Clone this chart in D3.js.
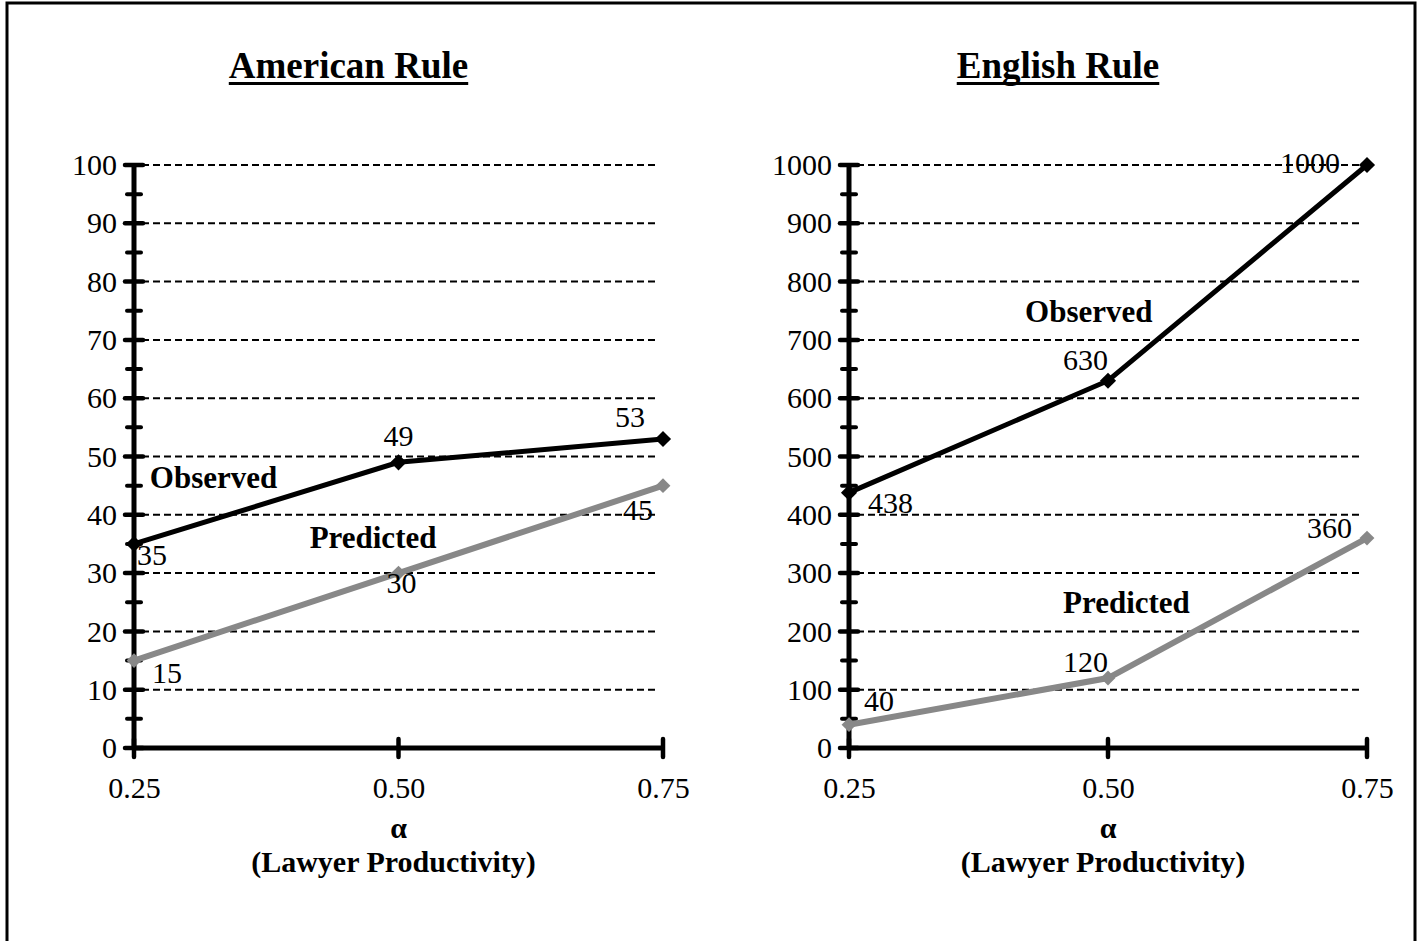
<!DOCTYPE html>
<html>
<head>
<meta charset="utf-8">
<script src="https://cdn.jsdelivr.net/npm/d3@7"></script>
<style>
    body { margin: 0; background: #fff; }
    svg { display: block; }
    text { font-family: "Liberation Serif", "Times New Roman", serif; fill: #000; }
</style>
</head>
<body>
<div id="chart"></div>
<script>
'use strict';
// values
var alphas = [0.25, 0.50, 0.75];
var alphaLabels = ["0.25", "0.50", "0.75"];
var americanObserved = [35, 49, 53];
var americanPredicted = [15, 30, 45];
var englishObserved = [438, 630, 1000];
var englishPredicted = [40, 120, 360];
var americanTicks = [0, 10, 20, 30, 40, 50, 60, 70, 80, 90, 100];
var englishTicks = [0, 100, 200, 300, 400, 500, 600, 700, 800, 900, 1000];

var width = 1424;
var height = 941;
var plotTop = 165, plotBottom = 748;

var svg = d3.select("#chart").append("svg")
            .attr("width", width)
            .attr("height", height);

// outer frame
svg.append("rect")
    .attr("x", 7).attr("y", 3)
    .attr("width", 1408).attr("height", 1000)
    .attr("fill", "none")
    .attr("stroke", "#000")
    .attr("stroke-width", 3);

var panels = [
    {
        title: "American Rule", left: 134, right: 663,
        ticks: americanTicks, observed: americanObserved, predicted: americanPredicted,
        // label offsets [dx, baseline dy, anchor] for each point
        obsLabels: [[3, 21, "start"], [0, -16, "middle"], [-33, -12, "middle"]],
        predLabels: [[18, 22, "start"], [3, 20, "middle"], [-25, 34, "middle"]],
        obsName: [0.265, 44.6], predName: [0.416, 34.3]
    },
    {
        title: "English Rule", left: 849, right: 1367,
        ticks: englishTicks, observed: englishObserved, predicted: englishPredicted,
        obsLabels: [[19, 20, "start"], [0, -11, "end"], [-27, 8, "end"]],
        predLabels: [[15, -14, "start"], [0, -6, "end"], [-15, 0, "end"]],
        obsName: [0.42, 731], predName: [0.4566, 231]
    }
];

panels.forEach(function (p) {
    var g = svg.append("g");
    var x = d3.scaleLinear().domain([0.25, 0.75]).range([p.left, p.right]);
    var y = d3.scaleLinear().domain([0, d3.max(p.ticks)]).range([plotBottom, plotTop]);
    var step = p.ticks[1] - p.ticks[0];
    var mid = (p.left + p.right) / 2;

    // title with underline
    var title = g.append("text")
        .attr("x", mid - 50)
        .attr("y", 78)
        .attr("text-anchor", "middle")
        .style("font-size", "37px")
        .style("font-weight", "bold")
        .text(p.title);
    var bb = title.node().getBBox();
    g.append("line")
        .attr("x1", bb.x).attr("x2", bb.x + bb.width)
        .attr("y1", 83.5).attr("y2", 83.5)
        .attr("stroke", "#000").attr("stroke-width", 3);

    // dashed gridlines
    g.selectAll(".grid")
        .data(p.ticks.filter(function (d) { return d > 0; }))
        .enter().append("line")
        .attr("class", "grid")
        .attr("x1", p.left + 8)
        .attr("x2", p.right - 8)
        .attr("y1", function (d) { return y(d); })
        .attr("y2", function (d) { return y(d); })
        .attr("stroke", "#000")
        .attr("stroke-width", 2)
        .attr("stroke-dasharray", "7,4");

    // y labels through the axis generator, tick marks drawn by hand
    var yAxis = g.append("g")
        .attr("transform", "translate(" + p.left + ",0)")
        .call(d3.axisLeft(y).tickValues(p.ticks).tickSize(0).tickPadding(17).tickFormat(d3.format("d")));
    yAxis.select(".domain").remove();
    yAxis.selectAll("text")
        .style("font-family", "Liberation Serif, serif")
        .style("font-size", "30px")
        .attr("fill", "#000");

    var xAxis = g.append("g")
        .attr("transform", "translate(0," + plotBottom + ")")
        .call(d3.axisBottom(x).tickValues(alphas).tickSize(0).tickPadding(29)
            .tickFormat(function (d, i) { return alphaLabels[i]; }));
    xAxis.select(".domain").remove();
    xAxis.selectAll("text")
        .style("font-family", "Liberation Serif, serif")
        .style("font-size", "30px")
        .attr("fill", "#000");

    var minor = p.ticks.slice(1).map(function (d) { return d - step / 2; });
    g.selectAll(".minor")
        .data(minor)
        .enter().append("line")
        .attr("x1", p.left - 7).attr("x2", p.left + 7)
        .attr("y1", function (d) { return y(d); })
        .attr("y2", function (d) { return y(d); })
        .attr("stroke", "#000").attr("stroke-width", 4).attr("stroke-linecap", "round");
    g.selectAll(".major")
        .data(p.ticks)
        .enter().append("line")
        .attr("x1", p.left - 9).attr("x2", p.left + 9)
        .attr("y1", function (d) { return y(d); })
        .attr("y2", function (d) { return y(d); })
        .attr("stroke", "#000").attr("stroke-width", 4.5).attr("stroke-linecap", "round");
    g.selectAll(".xtick")
        .data(alphas)
        .enter().append("line")
        .attr("x1", function (d) { return x(d); })
        .attr("x2", function (d) { return x(d); })
        .attr("y1", plotBottom - 9).attr("y2", plotBottom + 9)
        .attr("stroke", "#000").attr("stroke-width", 4.5).attr("stroke-linecap", "round");

    // axis lines
    g.append("line")
        .attr("x1", p.left).attr("x2", p.left)
        .attr("y1", plotTop).attr("y2", plotBottom)
        .attr("stroke", "#000").attr("stroke-width", 5);
    g.append("line")
        .attr("x1", p.left).attr("x2", p.right)
        .attr("y1", plotBottom).attr("y2", plotBottom)
        .attr("stroke", "#000").attr("stroke-width", 5);

    // axis title
    g.append("text")
        .attr("x", mid)
        .attr("y", 838)
        .attr("text-anchor", "middle")
        .style("font-size", "30px")
        .style("font-weight", "bold")
        .text("α");
    g.append("text")
        .attr("x", mid - 5)
        .attr("y", 872)
        .attr("text-anchor", "middle")
        .style("font-size", "30px")
        .style("font-weight", "bold")
        .text("(Lawyer Productivity)");

    var line = d3.line()
        .x(function (d, i) { return x(alphas[i]); })
        .y(function (d) { return y(d); });
    var diamond = d3.symbol().type(d3.symbolSquare);

    function series(values, color, lw, msize, labels) {
        g.append("path")
            .datum(values)
            .attr("d", line)
            .attr("fill", "none")
            .attr("stroke", color)
            .attr("stroke-width", lw);
        g.selectAll(null)
            .data(values)
            .enter().append("path")
            .attr("d", diamond.size(msize))
            .attr("transform", function (d, i) {
                return "translate(" + x(alphas[i]) + "," + y(d) + ") rotate(45)";
            })
            .attr("fill", color);
        g.selectAll(null)
            .data(values)
            .enter().append("text")
            .attr("x", function (d, i) { return x(alphas[i]) + labels[i][0]; })
            .attr("y", function (d) { return y(d); })
            .attr("dy", function (d, i) { return labels[i][1]; })
            .attr("text-anchor", function (d, i) { return labels[i][2]; })
            .style("font-size", "30px")
            .text(function (d) { return d; });
    }

    series(p.predicted, "#888888", 6, 110, p.predLabels);
    series(p.observed, "#000", 5, 130, p.obsLabels);

    g.append("text")
        .attr("x", x(p.obsName[0])).attr("y", y(p.obsName[1]))
        .style("font-size", "31px").style("font-weight", "bold")
        .text("Observed");
    g.append("text")
        .attr("x", x(p.predName[0])).attr("y", y(p.predName[1]))
        .style("font-size", "31px").style("font-weight", "bold")
        .text("Predicted");
});
</script>
</body>
</html>
